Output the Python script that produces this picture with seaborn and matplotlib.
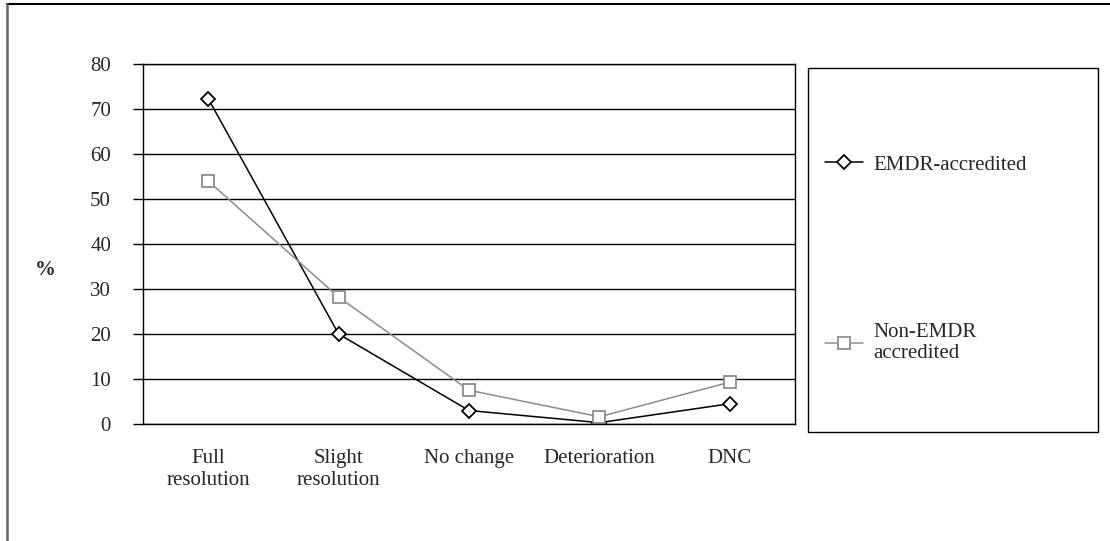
import pandas as pd
import matplotlib.pyplot as plt
import seaborn as sns
from matplotlib.patches import Rectangle
from matplotlib.lines import Line2D
from matplotlib.ticker import FixedLocator

# Veriler
categories = ["Full\nresolution", "Slight\nresolution", "No change", "Deterioration", "DNC"]
emdr = [72.3, 20.0, 3.0, 0.3, 4.5]
non_emdr = [54.0, 28.2, 7.5, 1.6, 9.3]
series_names = ["EMDR-accredited", "Non-EMDR\naccredited"]
y_ticks = [0, 10, 20, 30, 40, 50, 60, 70, 80]

df = pd.DataFrame({
    "kategori": categories * 2,
    "deger": emdr + non_emdr,
    "grup": [series_names[0]] * 5 + [series_names[1]] * 5,
})

sns.set_style("white")
plt.rcParams["font.family"] = ["Liberation Serif", "DejaVu Serif"]
fs = 15

fig = plt.figure(figsize=(11.1, 5.41), dpi=100)
ax = fig.add_axes([143 / 1110, 117 / 541, 652 / 1110, 360 / 541])

sns.lineplot(data=df, x="kategori", y="deger", hue="grup", style="grup",
             palette={series_names[0]: "black", series_names[1]: "#8c8c8c"},
             markers={series_names[0]: "D", series_names[1]: "s"},
             dashes=False, markersize=8, markerfacecolor="white",
             linewidth=1.1, legend=False, sort=False, ax=ax)

for line in ax.get_lines():
    line.set_markeredgecolor(line.get_color())
    line.set_markeredgewidth(1.3)
ax.get_lines()[0].set_markersize(7.5)
ax.get_lines()[1].set_markersize(9)

ax.set_xlim(-0.5, 4.5)
ax.set_ylim(0, 80)
ax.set_yticks(y_ticks)
ax.yaxis.grid(True, color="black", linewidth=1)
ax.set_axisbelow(True)
for s in ax.spines.values():
    s.set_color("black")
    s.set_linewidth(1)

ax.set_xlabel("")
ax.set_ylabel("")
ax.tick_params(axis="x", which="major", length=0, pad=18, labelsize=fs)
for t in ax.get_xticklabels():
    t.set_linespacing(1.2)
ax.xaxis.set_minor_locator(FixedLocator([0.5, 1.5, 2.5, 3.5]))
ax.tick_params(axis="x", which="minor", length=8, width=1, color="black", direction="out")
ax.tick_params(axis="y", length=7, width=1, color="black", direction="out", pad=16, labelsize=fs, left=True)

fig.text(45 / 1110, 1 - 270 / 541, "%", fontsize=fs, fontweight="bold", ha="center", va="center")

# Lejant kutusu
fig.patches.append(Rectangle((808 / 1110, 109 / 541), 290 / 1110, 364 / 541,
                             transform=fig.transFigure, fill=False, edgecolor="black", linewidth=1))
leg = fig.legend(ax.get_lines(), series_names, loc="upper left",
                 bbox_to_anchor=(825 / 1110, 1 - 155 / 541), frameon=False,
                 fontsize=fs, labelspacing=7.1, handlelength=1.8, handletextpad=0.5,
                 borderpad=0, borderaxespad=0)
for t in leg.get_texts():
    t.set_linespacing(1.2)

# Dış çerçeve (yalnızca üst ve sol)
fig.add_artist(Line2D([7 / 1110, 1], [1 - 4 / 541, 1 - 4 / 541], transform=fig.transFigure,
                      color="black", linewidth=1.5))
fig.add_artist(Line2D([7 / 1110, 7 / 1110], [0, 1 - 4 / 541], transform=fig.transFigure,
                      color="#666666", linewidth=1.8))

fig.savefig("out.png", dpi=100)
